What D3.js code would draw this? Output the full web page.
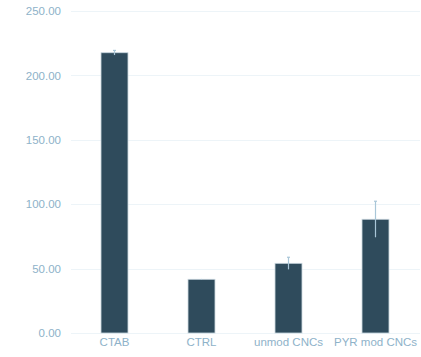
<!DOCTYPE html>
<html>
<head>
<meta charset="utf-8">
<script src="https://cdn.jsdelivr.net/npm/d3@7"></script>
<style>
  body { margin: 0; background: #fff; }
  svg { display: block; font-family: "Liberation Sans", Arial, sans-serif; }
  .axis path, .axis line { display: none; }
  .axis text { fill: #8eb2c9; font-size: 11.5px; }
  .grid line { stroke: #edf4f8; stroke-width: 1; }
</style>
</head>
<body>
<div id="content"></div>
<script>
// values
const categories = ["CTAB", "CTRL", "unmod CNCs", "PYR mod CNCs"];
const means = [217.6, 41.7, 54.1, 88.3];
const errors = [1.8, 0.3, 4.7, 14.0];
const yTicks = [0, 50, 100, 150, 200, 250];

var width = 421, height = 357;
var margin = { top: 11, right: 2, bottom: 24, left: 71 };

var rows = categories.map((c, i) => ({ cat: c, mean: means[i], err: errors[i] }));

var svg = d3.select("#content").append("svg")
    .attr("width", width)
    .attr("height", height);

var xScale = d3.scaleBand()
    .domain(categories)
    .range([margin.left, width - margin.right])
    .paddingInner(0.69)
    .paddingOuter(0.345);

var yScale = d3.scaleLinear()
    .domain([0, 250])
    .range([height - margin.bottom, margin.top]);

var cx = d => xScale(d.cat) + xScale.bandwidth() / 2;

// gridlines
svg.append("g").attr("class", "grid")
    .selectAll("line")
    .data(yTicks)
    .enter().append("line")
    .attr("x1", margin.left)
    .attr("x2", width - 1)
    .attr("y1", d => Math.round(yScale(d)) + 0.5)
    .attr("y2", d => Math.round(yScale(d)) + 0.5);

// bars
svg.append("g")
    .selectAll("rect")
    .data(rows)
    .enter().append("rect")
    .attr("x", d => xScale(d.cat))
    .attr("width", xScale.bandwidth())
    .attr("y", d => yScale(d.mean))
    .attr("height", d => yScale(0) - yScale(d.mean))
    .attr("fill", "#2f4b5c")
    .attr("stroke", "#c9d6de")
    .attr("stroke-width", 0.8);

// error bars
var eb = svg.append("g")
    .selectAll("g")
    .data(rows)
    .enter().append("g")
    .attr("stroke", "#a9c6d8")
    .attr("stroke-width", 1.2);

eb.append("line")
    .attr("x1", cx)
    .attr("x2", cx)
    .attr("y1", d => yScale(d.mean - d.err))
    .attr("y2", d => yScale(d.mean + d.err));

eb.filter(d => d.err > 1).append("line")
    .attr("x1", d => cx(d) - 1.5)
    .attr("x2", d => cx(d) + 1.5)
    .attr("y1", d => yScale(d.mean + d.err))
    .attr("y2", d => yScale(d.mean + d.err));

// axes
var yAxis = d3.axisLeft(yScale).tickValues(yTicks).tickFormat(d3.format(".2f")).tickSize(0).tickPadding(10);
svg.append("g").attr("class", "axis")
    .attr("transform", "translate(" + margin.left + ",0)")
    .call(yAxis);

var xAxis = d3.axisBottom(xScale).tickSize(0).tickPadding(5);
svg.append("g").attr("class", "axis")
    .attr("transform", "translate(0," + yScale(0) + ")")
    .call(xAxis);
</script>
</body>
</html>
